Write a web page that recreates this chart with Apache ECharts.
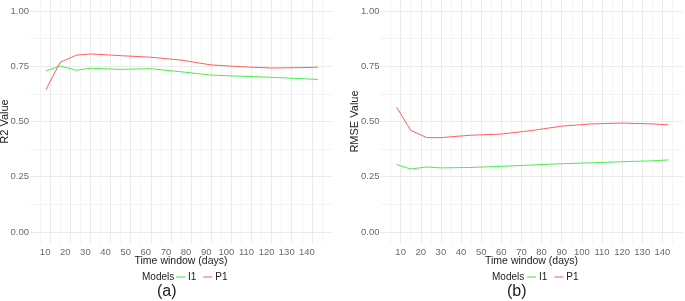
<!DOCTYPE html>
<html>
<head>
<meta charset="utf-8">
<script src="https://cdn.jsdelivr.net/npm/echarts@6/dist/echarts.min.js"></script>
<style>
  html, body { margin: 0; padding: 0; background: #fff; }
  #chart { width: 685px; height: 301px; }
</style>
</head>
<body>
<div id="chart"></div>
<script>
// time windows (days) and model scores
const days = [8, 15, 23, 30, 45, 60, 75, 90, 105, 120, 135, 143]
const r2I1 = [0.730, 0.751, 0.732, 0.741, 0.736, 0.739, 0.725, 0.710, 0.705, 0.700, 0.694, 0.690]
const r2P1 = [0.646, 0.768, 0.800, 0.806, 0.798, 0.791, 0.778, 0.756, 0.748, 0.742, 0.744, 0.746]
const rmseI1 = [0.305, 0.285, 0.294, 0.290, 0.292, 0.297, 0.303, 0.309, 0.313, 0.318, 0.322, 0.326]
const rmseP1 = [0.565, 0.460, 0.427, 0.427, 0.438, 0.443, 0.459, 0.479, 0.489, 0.493, 0.489, 0.485]
const xTickLabels = [10, 20, 30, 40, 50, 60, 70, 80, 90, 100, 110, 120, 130, 140]
const yTickLabels = ['0.00', '0.25', '0.50', '0.75', '1.00']

const GREEN = '#4ced4c'
const RED = '#ff5f5f'
const FONT = 'Liberation Sans'

const chart = echarts.init(document.getElementById('chart'))

// ggplot minimal theme grid: major at breaks, lighter minor in between
const MAJOR = '#ebebeb'
const MINOR = '#f4f4f4'
const NONE = 'rgba(0,0,0,0)'

function makeX(gridIndex, labelPad) {
  return {
    type: 'value',
    gridIndex: gridIndex,
    min: 0,
    max: 150,
    interval: 5,
    name: 'Time window (days)',
    nameLocation: 'middle',
    nameGap: 13,
    nameMoveOverlap: false,
    nameTextStyle: { fontFamily: FONT, fontSize: 10.5, color: '#222' },
    axisLine: { show: false },
    axisTick: { show: false },
    axisLabel: {
      margin: 4,
      padding: labelPad,
      fontFamily: FONT,
      fontSize: 9.5,
      color: '#6a6a6a',
      formatter: (v) => (xTickLabels.includes(Math.round(v)) ? String(Math.round(v)) : '')
    },
    splitLine: {
      show: true,
      showMinLine: false,
      showMaxLine: false,
      lineStyle: { color: [MINOR, MAJOR], width: 1 }
    }
  }
}

function makeY(gridIndex, name) {
  return {
    type: 'value',
    gridIndex: gridIndex,
    min: -0.05,
    max: 1.05,
    interval: 0.025,
    name: name,
    nameLocation: 'middle',
    nameGap: 20,
    nameMoveOverlap: false,
    nameTextStyle: { fontFamily: FONT, fontSize: 11, color: '#222' },
    axisLine: { show: false },
    axisTick: { show: false },
    axisLabel: {
      margin: 1,
      fontFamily: FONT,
      fontSize: 9.5,
      color: '#6a6a6a',
      formatter: (v) => {
        const s = (Math.round(v * 1000) / 1000).toFixed(2)
        return yTickLabels.includes(s) && Math.abs(v - parseFloat(s)) < 1e-6 ? s : ''
      }
    },
    splitLine: {
      show: true,
      showMinLine: false,
      showMaxLine: false,
      lineStyle: {
        color: [NONE, MAJOR, NONE, NONE, NONE, NONE, MINOR, NONE, NONE, NONE],
        width: 1
      }
    }
  }
}

function lineSeries(name, xi, values, color) {
  return {
    type: 'line',
    name: name,
    xAxisIndex: xi,
    yAxisIndex: xi,
    data: days.map((d, i) => [d, values[i]]),
    showSymbol: false,
    symbol: 'none',
    lineStyle: { color: color, width: 1 },
    itemStyle: { color: color },
    z: name === 'P1' ? 3 : 2
  }
}

function makeLegend(left) {
  return {
    left: left,
    top: 272,
    padding: 0,
    icon: 'rect',
    itemWidth: 9,
    itemHeight: 2,
    itemGap: 7,
    textStyle: { fontFamily: FONT, fontSize: 10, color: '#222', padding: [0, 0, 0, -2] },
    data: [
      { name: 'I1', itemStyle: { color: '#9df29d' } },
      { name: 'P1', itemStyle: { color: '#ffa9a9' } }
    ]
  }
}

function label(text, left, top, size) {
  return {
    text: text,
    left: left,
    top: top,
    padding: 0,
    textStyle: { fontFamily: FONT, fontSize: size, fontWeight: 'normal', color: '#222' }
  }
}

const option = {
  animation: false,
  backgroundColor: '#fff',
  grid: [
    { left: 30, top: 0, width: 302, height: 243, outerBoundsMode: 'none' },
    { left: 380.5, top: 0, width: 302, height: 243, outerBoundsMode: 'none' }
  ],
  // the left panel's tick labels sit half a minor step left of the grid lines
  xAxis: [makeX(0, [0, 10, 0, 0]), makeX(1, 0)],
  yAxis: [makeY(0, 'R2 Value'), makeY(1, 'RMSE Value')],
  legend: [makeLegend(176), makeLegend(527)],
  title: [
    label('Models', 142, 272, 10),
    label('Models', 492, 272, 10),
    label('(a)', 157, 284, 16),
    label('(b)', 507, 284, 16)
  ],
  series: [
    lineSeries('I1', 0, r2I1, GREEN),
    lineSeries('P1', 0, r2P1, RED),
    lineSeries('I1', 1, rmseI1, GREEN),
    lineSeries('P1', 1, rmseP1, RED)
  ]
}

chart.setOption(option)
</script>
</body>
</html>
